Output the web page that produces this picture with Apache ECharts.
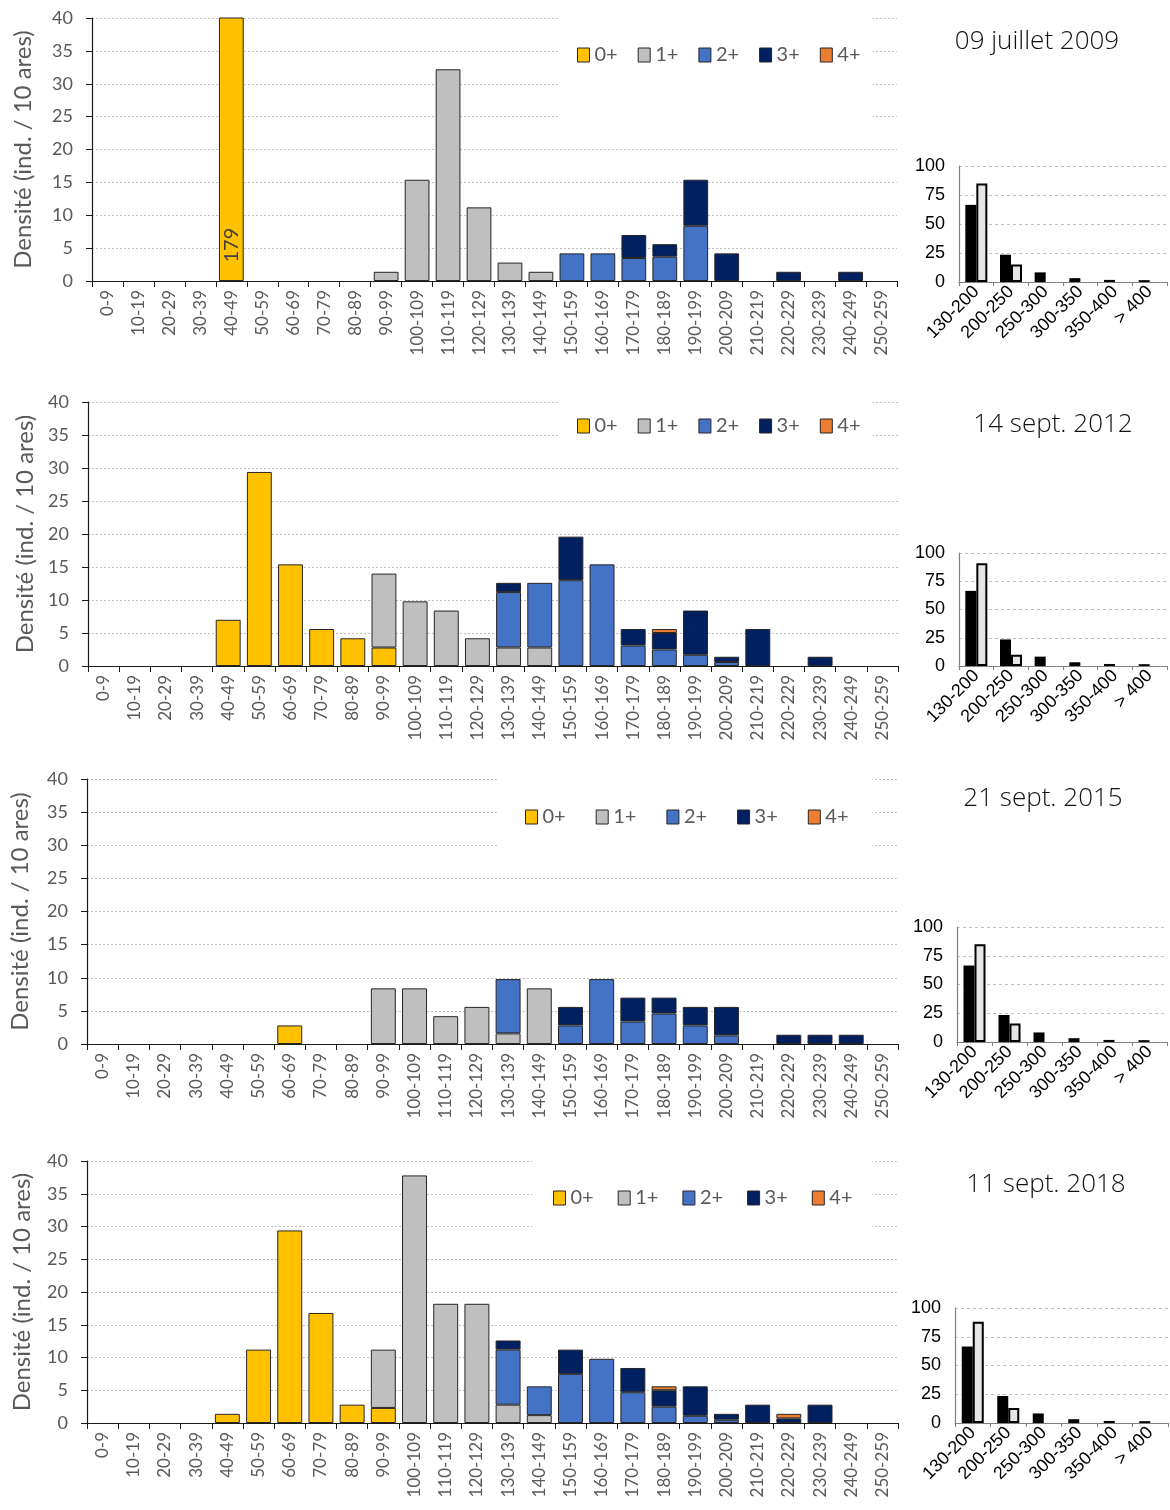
<!DOCTYPE html>
<html><head><meta charset="utf-8">
<script src="https://cdn.jsdelivr.net/npm/echarts@6/dist/echarts.min.js"></script>
<style>html,body{margin:0;padding:0;background:#fff}#c{width:1170px;height:1510px}</style>
</head><body><div id="c"></div>
<script>
// ---------- DATA ----------
const sizeClasses = ['0-9','10-19','20-29','30-39','40-49','50-59','60-69','70-79','80-89','90-99','100-109','110-119','120-129','130-139','140-149','150-159','160-169','170-179','180-189','190-199','200-209','210-219','220-229','230-239','240-249','250-259'];
const ageClasses = ['0+','1+','2+','3+','4+'];
const surveyTitles = ['09 juillet 2009','14 sept. 2012','21 sept. 2015','11 sept. 2018'];
const yAxisName = 'Densité (ind. / 10 ares)';

// 2009
const d2009_0 = [0,0,0,0,179,0,0,0,0,0,0,0,0,0,0,0,0,0,0,0,0,0,0,0,0,0];
const d2009_1 = [0,0,0,0,0,0,0,0,0,1.4,15.4,32.2,11.2,2.8,1.4,0,0,0,0,0,0,0,0,0,0,0];
const d2009_2 = [0,0,0,0,0,0,0,0,0,0,0,0,0,0,0,4.2,4.2,3.5,3.7,8.4,0,0,0,0,0,0];
const d2009_3 = [0,0,0,0,0,0,0,0,0,0,0,0,0,0,0,0,0,3.5,1.9,7.0,4.2,0,1.4,0,1.4,0];
const d2009_4 = [0,0,0,0,0,0,0,0,0,0,0,0,0,0,0,0,0,0,0,0,0,0,0,0,0,0];
// 2012
const d2012_0 = [0,0,0,0,7.0,29.4,15.4,5.6,4.2,2.8,0,0,0,0,0,0,0,0,0,0,0,0,0,0,0,0];
const d2012_1 = [0,0,0,0,0,0,0,0,0,11.2,9.8,8.4,4.2,2.8,2.8,0,0,0,0,0,0,0,0,0,0,0];
const d2012_2 = [0,0,0,0,0,0,0,0,0,0,0,0,0,8.4,9.8,13.0,15.4,3.1,2.5,1.7,0.6,0,0,0,0,0];
const d2012_3 = [0,0,0,0,0,0,0,0,0,0,0,0,0,1.4,0,6.6,0,2.5,2.5,6.7,0.8,5.6,0,1.4,0,0];
const d2012_4 = [0,0,0,0,0,0,0,0,0,0,0,0,0,0,0,0,0,0,0.6,0,0,0,0,0,0,0];
// 2015
const d2015_0 = [0,0,0,0,0,0,2.8,0,0,0,0,0,0,0,0,0,0,0,0,0,0,0,0,0,0,0];
const d2015_1 = [0,0,0,0,0,0,0,0,0,8.4,8.4,4.2,5.6,1.6,8.4,0,0,0,0,0,0,0,0,0,0,0];
const d2015_2 = [0,0,0,0,0,0,0,0,0,0,0,0,0,8.2,0,2.8,9.8,3.4,4.6,2.8,1.3,0,0,0,0,0];
const d2015_3 = [0,0,0,0,0,0,0,0,0,0,0,0,0,0,0,2.8,0,3.6,2.4,2.8,4.3,0,1.4,1.4,1.4,0];
const d2015_4 = [0,0,0,0,0,0,0,0,0,0,0,0,0,0,0,0,0,0,0,0,0,0,0,0,0,0];
// 2018
const d2018_0 = [0,0,0,0,1.4,11.2,29.4,16.8,2.8,2.3,0,0,0,0,0,0,0,0,0,0,0,0,0,0,0,0];
const d2018_1 = [0,0,0,0,0,0,0,0,0,8.9,37.8,18.2,18.2,2.8,1.2,0,0,0,0,0,0,0,0,0,0,0];
const d2018_2 = [0,0,0,0,0,0,0,0,0,0,0,0,0,8.4,4.4,7.5,9.8,4.7,2.5,1.1,0.5,0,0,0,0,0];
const d2018_3 = [0,0,0,0,0,0,0,0,0,0,0,0,0,1.4,0,3.7,0,3.7,2.5,4.5,0.9,2.8,0.7,2.8,0,0];
const d2018_4 = [0,0,0,0,0,0,0,0,0,0,0,0,0,0,0,0,0,0,0.6,0,0,0,0.7,0,0,0];

// small inset charts (%)
const insetClasses = ['130-200','200-250','250-300','300-350','350-400','> 400'];
const insetReference = [66.5,23.5,8.3,3.3,1.8,1.6];
const inset2009 = [85,15,0,0,0,0];
const inset2012 = [91,10,0,0,0,0];
const inset2015 = [85,16,0,0,0,0];
const inset2018 = [88,13,0,0,0,0];

const clippedLabel = '179'; // value of the 40-49 bar in 2009 (clipped at 40)

const yearSeries = [
  [d2009_0,d2009_1,d2009_2,d2009_3,d2009_4],
  [d2012_0,d2012_1,d2012_2,d2012_3,d2012_4],
  [d2015_0,d2015_1,d2015_2,d2015_3,d2015_4],
  [d2018_0,d2018_1,d2018_2,d2018_3,d2018_4]
];
const insetSeries = [inset2009,inset2012,inset2015,inset2018];

// ---------- LAYOUT ----------
const ageColors = ['#FFC000','#BFBFBF','#4472C4','#002060','#ED7D31'];
const L = [
  {g:{left:92,top:18,width:805,height:263}, nameGap:57,
   lg:{left:559,top:12,padding:[33,12,77,18],gap:20},
   t:{x:1037,y:42}, s:{left:959,top:166,width:208,height:116}},
  {g:{left:88,top:402,width:810,height:264}, nameGap:51,
   lg:{left:559,top:395,padding:[21,12,20,18],gap:20},
   t:{x:1053,y:425}, s:{left:959,top:553,width:208,height:113}},
  {g:{left:85,top:779,width:813,height:265}, nameGap:55,
   lg:{left:499,top:770,padding:[37,24,51,26],gap:30},
   t:{x:1043,y:799}, s:{left:957,top:927,width:210,height:115}},
  {g:{left:87,top:1161,width:811,height:262}, nameGap:53,
   lg:{left:532,top:1155,padding:[33,20,38,21],gap:24},
   t:{x:1046,y:1185}, s:{left:955,top:1308,width:213,height:115}}
];

const FONT = 'Lato';
const grid = [], xAxis = [], yAxis = [], series = [], legend = [], graphic = [];

L.forEach((p, i) => {
  const gi = grid.length;
  grid.push(Object.assign({containLabel:false}, p.g));
  xAxis.push({
    type:'category', gridIndex:gi, data:sizeClasses, boundaryGap:true,
    axisLine:{show:true, lineStyle:{color:'#1a1a1a', width:1.2}},
    axisTick:{show:true, length:6, alignWithLabel:false, interval:0, lineStyle:{color:'#1a1a1a'}},
    axisLabel:{rotate:90, interval:0, fontSize:17, color:'#595959', fontFamily:FONT, margin:9},
    splitLine:{show:false}
  });
  yAxis.push({
    type:'value', gridIndex:gi, min:0, max:40, interval:5,
    name:yAxisName, nameLocation:'middle', nameGap:p.nameGap,
    nameTextStyle:{fontSize:24, color:'#595959', fontFamily:FONT},
    axisLine:{show:true, lineStyle:{color:'#1a1a1a', width:1.2}},
    axisTick:{show:true, length:6, lineStyle:{color:'#1a1a1a'}},
    axisLabel:{fontSize:18, color:'#595959', fontFamily:FONT, margin:19},
    splitLine:{show:true, lineStyle:{color:'#BFBFBF', type:[2,2], width:1}}
  });
  yearSeries[i].forEach((arr, k) => {
    series.push({
      type:'bar', name:ageClasses[k], xAxisIndex:gi, yAxisIndex:gi, stack:'p'+i,
      barCategoryGap:'20%',
      itemStyle:{color:ageColors[k], borderColor:'#262626', borderWidth:1},
      emphasis:{disabled:true},
      data: arr.map((v, j) => {
        if (v === 0) return '-';
        if (v > 40) return {value:v, label:{show:true, formatter:clippedLabel, rotate:90,
          position:['50%','93%'], align:'left', verticalAlign:'middle',
          fontSize:20, color:'#404040', fontFamily:FONT}};
        return v;
      })
    });
  });
  legend.push({
    data:ageClasses, left:p.lg.left, top:p.lg.top, padding:p.lg.padding, itemGap:p.lg.gap,
    itemWidth:12, itemHeight:14, icon:'rect', backgroundColor:'#fff', selectedMode:false,
    textStyle:{fontSize:20, color:'#595959', fontFamily:FONT},
    itemStyle:{borderColor:'#262626', borderWidth:1}
  });
  graphic.push({type:'text', x:p.t.x, y:p.t.y, z:100,
    style:{text:surveyTitles[i], font:'300 26px "Open Sans"', fill:'#111', textAlign:'center', textVerticalAlign:'middle'}});

  // inset
  const si = grid.length;
  grid.push(Object.assign({containLabel:false}, p.s));
  xAxis.push({
    type:'category', gridIndex:si, data:insetClasses, boundaryGap:true,
    axisLine:{show:true, lineStyle:{color:'#808080', width:1.2}},
    axisTick:{show:true, length:4, interval:0, lineStyle:{color:'#808080'}},
    axisLabel:{rotate:45, interval:0, fontSize:18, color:'#000', fontFamily:'Liberation Sans', margin:7},
    splitLine:{show:false}
  });
  yAxis.push({
    type:'value', gridIndex:si, min:0, max:100, interval:25,
    axisLine:{show:true, lineStyle:{color:'#808080', width:1.2}},
    axisTick:{show:false},
    axisLabel:{fontSize:18, color:'#000', fontFamily:'Liberation Sans', margin:14},
    splitLine:{show:true, lineStyle:{color:'#C0C0C0', type:[3,3], width:1}}
  });
  series.push({type:'bar', name:'référence', xAxisIndex:si, yAxisIndex:si, barWidth:11, barGap:'0%',
    itemStyle:{color:'#000'}, emphasis:{disabled:true}, data:insetReference.map(v => v===0?'-':v)});
  series.push({type:'bar', name:'station', xAxisIndex:si, yAxisIndex:si, barWidth:11, barGap:'0%',
    itemStyle:{color:'#E6E6E6', borderColor:'#000', borderWidth:2}, emphasis:{disabled:true},
    data:insetSeries[i].map(v => v===0?'-':v)});
});

const chart = echarts.init(document.getElementById('c'), null, {renderer:'canvas'});
chart.setOption({animation:false, backgroundColor:'#fff', grid, xAxis, yAxis, series, legend, graphic});
</script>
</body></html>
